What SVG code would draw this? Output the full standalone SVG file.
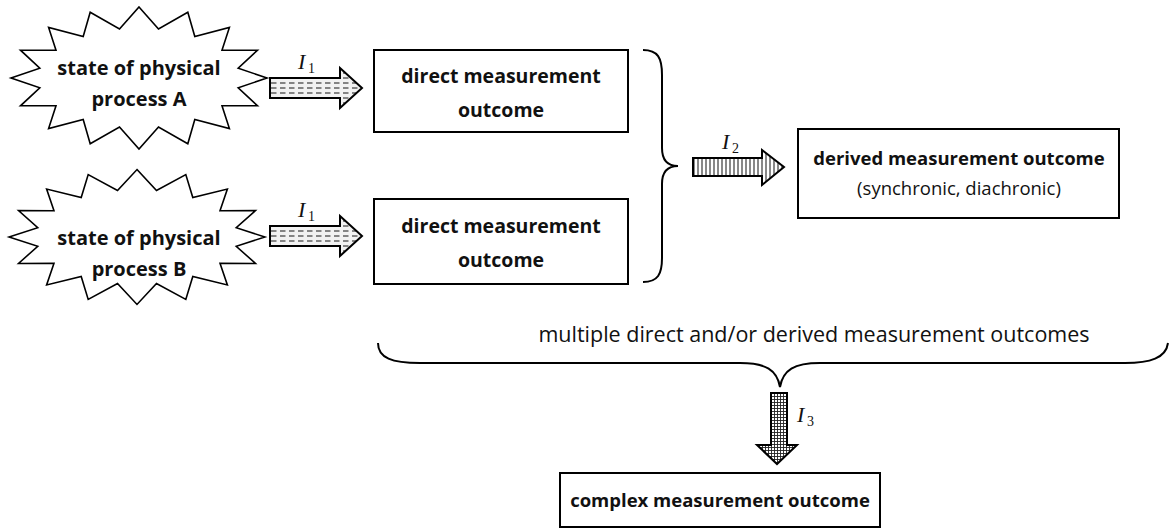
<svg xmlns="http://www.w3.org/2000/svg" xmlns:xlink="http://www.w3.org/1999/xlink" width="1170" height="528" viewBox="0 0 1170 528">
<style>
.box{fill:#fff;stroke:#000;stroke-width:2}
.star{fill:#fff;stroke:#000;stroke-width:1.6;stroke-linejoin:miter}
.brace{fill:none;stroke:#000;stroke-width:2}
.arrow{stroke:#000;stroke-width:2;stroke-linejoin:miter}
.tb{font-family:"Open Sans","Liberation Sans",sans-serif;font-weight:bold;font-size:19.5px;fill:#111;text-anchor:middle}
.tw{font-family:"Open Sans","Liberation Sans",sans-serif;font-weight:bold;font-size:18.5px;fill:#111;text-anchor:middle}
.ts{font-family:"Open Sans","Liberation Sans",sans-serif;font-weight:bold;font-size:20px;fill:#111;text-anchor:middle}
.tr{font-family:"Open Sans","Liberation Sans",sans-serif;font-size:18.5px;fill:#111;text-anchor:middle}
.tm{font-family:"Open Sans","Liberation Sans",sans-serif;font-size:21.5px;fill:#111;text-anchor:middle}
.lab{font-family:"Liberation Serif",serif;font-style:italic;font-size:22px;fill:#111}
.sub{font-family:"Liberation Serif",serif;font-size:14px;fill:#111}
</style>
<defs>
<polygon id="starShape" points="0,-71 19.5,-49 48.8,-65.7 55.8,-41.5 90.4,-50.5 83,-27.7 118.5,-27.8 99.2,-9.8 128,0 99.2,9.8 118.5,27.8 83,27.7 90.4,50.5 55.8,41.5 48.8,65.7 19.5,49 0,71 -19.5,49 -48.8,65.7 -55.8,41.5 -90.4,50.5 -83,27.7 -118.5,27.8 -99.2,9.8 -128,0 -99.2,-9.8 -118.5,-27.8 -83,-27.7 -90.4,-50.5 -55.8,-41.5 -48.8,-65.7 -19.5,-49"/>
<pattern id="dashA" x="0" y="0" width="9" height="5" patternUnits="userSpaceOnUse"><rect width="9" height="5" fill="#f2f2f2"/><line x1="1" y1="3" x2="6.5" y2="3" stroke="#555" stroke-width="1.4"/></pattern>
<pattern id="dashB" x="0" y="-2" width="9" height="5" patternUnits="userSpaceOnUse"><rect width="9" height="5" fill="#f2f2f2"/><line x1="1" y1="3" x2="6.5" y2="3" stroke="#555" stroke-width="1.4"/></pattern>
<pattern id="vlines" x="0" y="0" width="4" height="4" patternUnits="userSpaceOnUse"><rect width="4" height="4" fill="#fff"/><line x1="2" y1="0" x2="2" y2="4" stroke="#111" stroke-width="1"/></pattern>
<pattern id="grid" x="0" y="0" width="3" height="3" patternUnits="userSpaceOnUse"><rect width="3" height="3" fill="#fff"/><path d="M0,0.5H3M0.5,0V3" stroke="#222" stroke-width="0.9"/></pattern>
</defs>

<g id="starA">
<use xlink:href="#starShape" href="#starShape" class="star" transform="translate(139,78)"/>
<text class="ts" x="139" y="75">state of physical</text>
<text class="ts" x="139" y="106">process A</text>
</g>

<g id="starB">
<use xlink:href="#starShape" href="#starShape" class="star" transform="translate(137,237) scale(1,0.95)"/>
<text class="ts" x="139" y="245">state of physical</text>
<text class="ts" x="139" y="276">process B</text>
</g>

<g id="direct1">
<rect class="box" x="374" y="50" width="254" height="82"/>
<text class="tb" x="501" y="83">direct measurement</text>
<text class="tb" x="501" y="117">outcome</text>
</g>

<g id="direct2">
<rect class="box" x="374" y="199" width="254" height="85"/>
<text class="tb" x="501" y="233">direct measurement</text>
<text class="tb" x="501" y="267">outcome</text>
</g>

<g id="derived">
<rect class="box" x="798" y="129" width="321" height="89"/>
<text class="tw" x="959" y="165">derived measurement outcome</text>
<text class="tr" x="959" y="195">(synchronic, diachronic)</text>
</g>

<g id="complex">
<rect class="box" x="560" y="473" width="320" height="54"/>
<text class="tw" x="720" y="507">complex measurement outcome</text>
</g>

<g id="connectors">
<polygon class="arrow" fill="url(#dashA)" points="270,78 340,78 340,68 362,88 340,108 340,98 270,98"/>
<text class="lab" x="298" y="69">I</text><text class="sub" x="308" y="73">1</text>
<polygon class="arrow" fill="url(#dashB)" points="270,226 340,226 340,216 362,236 340,256 340,246 270,246"/>
<text class="lab" x="298" y="217">I</text><text class="sub" x="308" y="221">1</text>
<path class="brace" d="M643,50 C658,50 662,58 662,75 L662,148 C662,160 668,166 678,166 C668,166 662,172 662,184 L662,258 C662,274 658,282 643,282"/>
<polygon class="arrow" fill="url(#vlines)" points="693,158 762,158 762,150 784,167 762,185 762,176 693,176"/>
<text class="lab" x="722" y="149">I</text><text class="sub" x="732" y="153">2</text>
<text class="tm" x="814" y="342">multiple direct and/or derived measurement outcomes</text>
<path class="brace" d="M378,343 C378,358 392,363 420,363 L740,363 C766,363 777,370 780,387 C783,370 794,363 820,363 L1125,363 C1150,363 1166,358 1168,343"/>
<polygon class="arrow" fill="url(#grid)" points="771,393 787,393 787,445 797,445 777,464 757,445 771,445"/>
<text class="lab" x="797" y="422">I</text><text class="sub" x="807" y="426">3</text>
</g>
</svg>
